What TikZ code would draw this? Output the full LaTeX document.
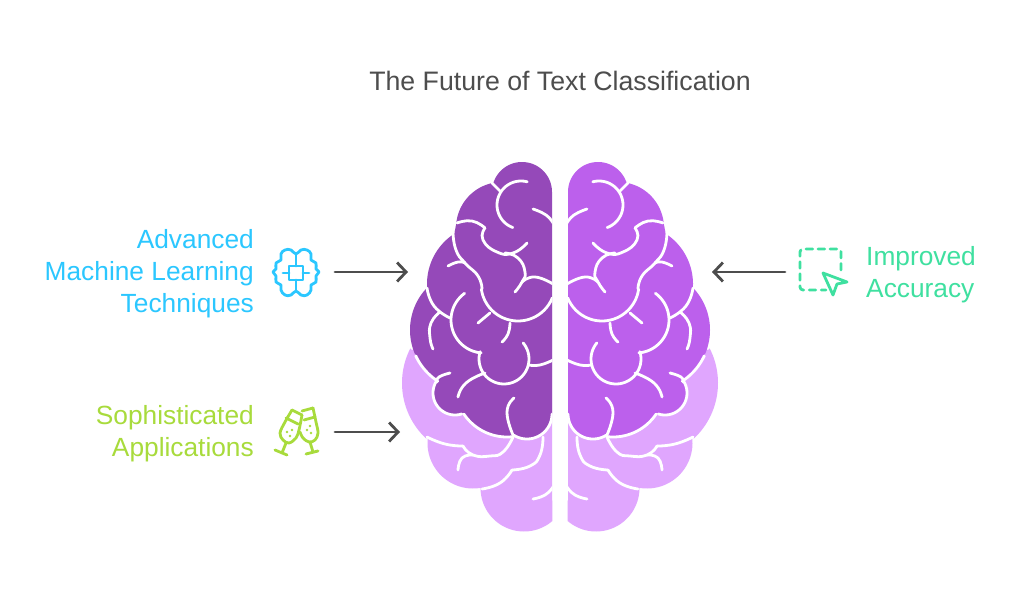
\documentclass[tikz,border=0pt]{standalone}
\usepackage{fontspec}
\setmainfont{Liberation Sans}
\usetikzlibrary{arrows.meta}
\definecolor{darkL}{HTML}{9549B9}
\definecolor{darkR}{HTML}{BC60EC}
\definecolor{lightB}{HTML}{E0A6FE}
\definecolor{inkG}{HTML}{4D4D4D}
\definecolor{cyanT}{HTML}{2BC7FF}
\definecolor{limeT}{HTML}{A8DB3C}
\definecolor{greenT}{HTML}{3FE0A0}
\tikzset{
  fold/.style={white,line width=2.8bp,line cap=round,line join=round},
  arrowline/.style={inkG,line width=2.8bp,-{Straight Barb[length=9bp,width=19bp,line width=2.8bp]},line cap=round},
  label/.style={font=\fontsize{26.4}{32}\selectfont,align=right,anchor=east,inner sep=0pt},
  sm/.style={smooth,tension=0.9},
  iconline/.style={line width=2.8bp,line join=round,line cap=round},
}
\newcommand{\carc}[5]{-- plot[domain=#4:#5,samples=40,variable=\t] ({#1+#3*cos(\t)},{#2+#3*sin(\t)})}
\newcommand{\farc}[5]{\draw[fold] plot[domain=#4:#5,samples=40,variable=\t] ({#1+#3*cos(\t)},{#2+#3*sin(\t)});}
\newcommand{\brainhalf}[1]{%
  \begin{scope}
  \clip (300,140) rectangle (552.4,560);
  \fill[lightB] (552,300) -- (412,350)
    \carc{478}{383}{76}{-153}{-227}
    \carc{473}{443}{45.5}{188}{79}
    \carc{524}{488}{43.5}{180}{40}
    -- (552,500) -- cycle;
  \fill[#1] (552,192)
    \carc{522}{192}{30}{0}{-159}
    \carc{502}{228}{46}{-101}{-175}
    \carc{487}{284}{60}{-123}{-184}
    \carc{471}{330}{61}{-136}{-237}
    \carc{455}{393}{22}{-148}{-288}
    \carc{507}{385}{52}{146}{83}
    \carc{527}{414}{25}{122}{0}
    -- cycle;
  % dark folds
  \draw[fold] plot[sm] coordinates {(492,183)(500,191)};
  \farc{521}{205}{24}{-75}{-250}
  \draw[fold] plot[sm] coordinates {(533,209)(546,215)(553,223)};
  \draw[fold] plot[sm] coordinates {(457,223)(472,221)(485,228)};
  \draw[fold] plot[sm] coordinates {(485,228)(483,240)(497,252)(513,253)(527,243)};
  \draw[fold] plot[sm] coordinates {(453,232)(456,250)(465,263)(478,276)(482,289)};
  \farc{518}{284}{37}{172}{22}
  \draw[fold] plot[sm] coordinates {(448,266)(458,262)(465,263)};
  \draw[fold] plot[sm] coordinates {(505,253)(518,258)(525,272)(522,282)(515,292)};
  \draw[fold] plot[sm] coordinates {(522,282)(535,277)(553,284)};
  \farc{484}{320}{33}{-126}{-265}
  \farc{504}{359}{25}{197}{-40}
  \draw[fold] plot[sm] coordinates {(427,288)(434,306)(450,318)};
  \draw[fold] plot[sm] coordinates {(440,312)(431,323)(430,338)(433,349)};
  \draw[fold] plot[sm] coordinates {(478,323)(490,313)};
  \draw[fold] plot[sm] coordinates {(510,323)(508,334)(502,342)};
  \draw[fold] plot[sm] coordinates {(529,365)(540,365)(553,360)};
  \draw[fold] plot[sm] coordinates {(458,397)(466,383)(485,373)};
  \draw[fold] plot[sm] coordinates {(514,398)(507,412)(513,435)};
  \draw[fold] plot[sm] coordinates {(450,373)(439,377)(437,382)};
  % outline between dark and light
  \farc{471}{330}{61}{-205}{-237}
  \farc{455}{393}{22}{-148}{-288}
  \farc{507}{385}{52}{146}{83}
  \farc{527}{414}{25}{122}{0}
  % light folds
  \draw[fold] plot[sm] coordinates {(427,437)(445,444)(463,446)};
  \draw[fold] plot[sm] coordinates {(463,446)(473,455)(490,456)(503,452)(513,437)};
  \draw[fold] plot[sm] coordinates {(458,470)(462,458)(473,455)};
  \draw[fold] plot[sm] coordinates {(482,489)(500,483)(512,470)};
  \draw[fold] plot[sm] coordinates {(512,470)(530,466)(540,455)(543,437)};
  \draw[fold] plot[sm] coordinates {(533,499)(545,495)(553,487)};
  \end{scope}
}
\begin{document}
\begin{tikzpicture}[x=1bp,y=-1bp]
\useasboundingbox (0,0) rectangle (1024,599);
\fill[white] (0,0) rectangle (1024,599);

\node[font=\fontsize{26.8}{30}\selectfont,text=inkG,inner sep=0pt] (title) at (560,81) {The Future of Text Classification};

\brainhalf{darkL}
\begin{scope}[shift={(1120,0)},xscale=-1]
\brainhalf{darkR}
\end{scope}

\node[label,text=cyanT] (adv) at (254,274) {Advanced\\Machine Learning\\Techniques};
\node[label,text=limeT] (soph) at (254,434) {Sophisticated\\Applications};
\node[label,text=greenT,align=left,anchor=west] (impr) at (866,275) {Improved\\Accuracy};

% brain icon
\begin{scope}[cyanT,iconline]
\draw plot[smooth cycle,tension=0.8] coordinates {(296,254)(291,250)(285,250)(281,254)(281,260)(276,263)(276,269)(273,272)(276,276)(276,282)(281,285)(281,290)(285,295)(291,295)(296,291)(301,295)(307,295)(311,290)(311,285)(316,282)(316,276)(319,272)(316,269)(316,263)(311,260)(311,254)(307,250)(301,250)};
\draw (289,266) rectangle (303,280);
\draw (296,254) -- (296,266) (296,280) -- (296,291);
\draw (283,273) -- (289,273) (303,273) -- (309,273);
\end{scope}
% glasses icon
\begin{scope}[limeT,iconline]
\draw plot[smooth,tension=0.6] coordinates {(292,410)(285,422)(280,433)(283,440)(289,443)(296,438)(299,430)(302,415)};
\draw (292,410) -- (302,415);
\draw (286,418) -- (298,424);
\draw (286,443) -- (282,453) (275,450) -- (287,455);
\draw plot[smooth,tension=0.6] coordinates {(313,408)(316,422)(318,433)(315,440)(309,442)(303,438)(300,432)};
\draw (302,411) -- (313,408);
\draw (304,420) -- (315,417);
\draw (310,442) -- (313,452) (306,454) -- (318,451);
\fill[limeT] (287,432) circle (1.4) (292,430) circle (1.4) (290,436) circle (1.4) (307,430) circle (1.4) (310,426) circle (1.4) (311,433) circle (1.4);
\end{scope}
% accuracy icon
\begin{scope}[greenT,iconline]
\draw[dash pattern=on 6.5bp off 5.5bp,rounded corners=3bp] (841,270) -- (841,249) -- (800,249) -- (800,290) -- (826,290);
\draw[fill=white] (823,273) -- (847,282) -- (837,284) -- (833,295) -- cycle;
\end{scope}

\coordinate (a1s) at (335,272);
\coordinate (a1e) at (408,272);
\coordinate (a2s) at (335,432);
\coordinate (a2e) at (400,432);
\coordinate (a3s) at (785,272);
\coordinate (a3e) at (712,272);
\draw[arrowline] (a1s) -- (a1e);
\draw[arrowline] (a2s) -- (a2e);
\draw[arrowline] (a3s) -- (a3e);
\end{tikzpicture}
\end{document}
